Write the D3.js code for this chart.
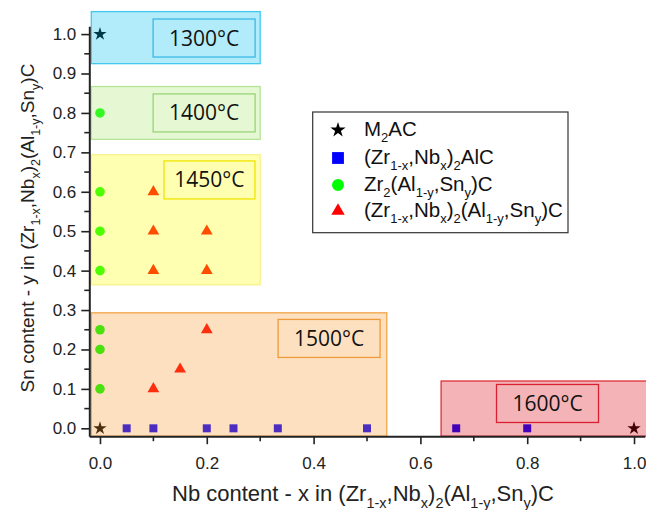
<!DOCTYPE html>
<html>
<head>
<meta charset="utf-8">
<script src="https://cdn.jsdelivr.net/npm/d3@7"></script>
<style>
  body { margin: 0; background: #fff; }
  text { font-family: "Liberation Sans", Arial, sans-serif; }
</style>
</head>
<body>
<div id="chart"></div>
<script>
// series (x = Nb content, y = Sn content)
var m2acX = [0, 0, 1.0];
var m2acY = [1.0, 0, 0];
var nbAlcX = [0.05, 0.1, 0.2, 0.25, 0.333, 0.5, 0.667, 0.8];
var nbAlcY = [0, 0, 0, 0, 0, 0, 0, 0];
var zrSnX = [0, 0, 0, 0, 0, 0, 0];
var zrSnY = [0.1, 0.2, 0.25, 0.4, 0.5, 0.6, 0.8];
var quatX = [0.1, 0.15, 0.2, 0.1, 0.2, 0.1, 0.2, 0.1];
var quatY = [0.1, 0.15, 0.25, 0.4, 0.4, 0.5, 0.5, 0.6];

// temperature regions (composition ranges)
var regionNames = ["1300°C", "1400°C", "1450°C", "1500°C", "1600°C"];
var regionX0 = [-0.02, -0.02, -0.02, -0.02, 0.635];
var regionX1 = [0.30, 0.30, 0.30, 0.537, 1.04];
var regionY0 = [0.925, 0.733, 0.364, -0.02, -0.02];
var regionY1 = [1.057, 0.867, 0.694, 0.293, 0.12];
var regionLabelX = [0.195, 0.195, 0.205, 0.429, 0.838];
var regionLabelY = [0.99, 0.80, 0.63, 0.228, 0.063];

var xTicks = [0, 0.2, 0.4, 0.6, 0.8, 1.0];
var yTicks = [0, 0.1, 0.2, 0.3, 0.4, 0.5, 0.6, 0.7, 0.8, 0.9, 1.0];

var legendNames = ["M_{2}AC", "(Zr_{1-x},Nb_{x})_{2}AlC", "Zr_{2}(Al_{1-y},Sn_{y})C", "(Zr_{1-x},Nb_{x})_{2}(Al_{1-y},Sn_{y})C"];

var W = 646, H = 510;
var svg = d3.select("#chart").append("svg")
    .attr("width", W)
    .attr("height", H);

var x = d3.scaleLinear().domain([-0.02, 1.02]).range([89.3, 644.7]);
var y = d3.scaleLinear().domain([-0.02, 1.02]).range([436.2, 26.2]);

var regionFill = ["#00bff0", "#ace86c", "#ffff00", "#f8982d", "#da0512"];
var regionStroke = ["#45c8f0", "#b5e498", "#f8f28a", "#f2a548", "#e0303c"];
var labelStroke = ["#3cb8e4", "#98d478", "#f0e400", "#ee9a3a", "#d82030"];
var labelW = [102, 102, 91, 102, 102];

// sub-script text helper
function richText(sel, str, size, subSize) {
  var parts = str.split(/(_\{[^}]*\})/);
  var down = false;
  parts.forEach(function(p) {
    if (!p) return;
    if (p.indexOf("_{") == 0) {
      sel.append("tspan").attr("font-size", subSize).attr("dy", down ? 0 : size * 0.3).text(p.slice(2, -1));
      down = true;
    } else {
      sel.append("tspan").attr("font-size", size).attr("dy", down ? -size * 0.3 : 0).text(p);
      down = false;
    }
  });
}

// markers first, regions overlaid semi-transparently
var star = d3.symbol().type(d3.symbolStar);
var sq = d3.symbol().type(d3.symbolSquare);
var circ = d3.symbol().type(d3.symbolCircle);
var tri = d3.symbol().type(d3.symbolTriangle);

var markers = svg.append("g");
markers.selectAll(".sq").data(nbAlcX).enter().append("path")
  .attr("d", sq.size(64)())
  .attr("transform", function(d, i) { return "translate(" + x(d) + "," + y(nbAlcY[i]) + ")"; })
  .attr("fill", "#0000ff");
markers.selectAll(".ci").data(zrSnX).enter().append("path")
  .attr("d", circ.size(72)())
  .attr("transform", function(d, i) { return "translate(" + x(d) + "," + y(zrSnY[i]) + ")"; })
  .attr("fill", "#00ff00");
markers.selectAll(".tr").data(quatX).enter().append("path")
  .attr("d", tri.size(60)())
  .attr("transform", function(d, i) { return "translate(" + x(d) + "," + y(quatY[i]) + ")"; })
  .attr("fill", "#ff0000");
markers.selectAll(".st").data(m2acX).enter().append("path")
  .attr("d", star.size(55)())
  .attr("transform", function(d, i) { return "translate(" + x(d) + "," + y(m2acY[i]) + ")"; })
  .attr("fill", "#000000");

var regions = svg.append("g");
regionNames.forEach(function(name, i) {
  var x0 = x(regionX0[i]) + 2, x1 = x(regionX1[i]);
  var yt = y(regionY1[i]), yb = y(regionY0[i]);
  regions.append("rect")
    .attr("x", x0).attr("y", yt)
    .attr("width", x1 - x0).attr("height", yb - yt)
    .attr("fill", regionFill[i]).attr("fill-opacity", 0.3)
    .attr("stroke", regionStroke[i]).attr("stroke-width", 1.3);
  var cx = x(regionLabelX[i]), cy = y(regionLabelY[i]);
  regions.append("rect")
    .attr("x", cx - labelW[i] / 2).attr("y", cy - 19)
    .attr("width", labelW[i]).attr("height", 38)
    .attr("fill", "none")
    .attr("stroke", labelStroke[i]).attr("stroke-width", 1.3);
  regions.append("text")
    .attr("x", cx).attr("y", cy + 7.5)
    .attr("text-anchor", "middle")
    .style("font-family", "'Open Sans', 'Noto Sans', sans-serif")
    .attr("font-size", 21)
    .attr("fill", "#111")
    .text(name);
});

// axes
var xAxis = svg.append("g").attr("transform", "translate(0," + 436.2 + ")");
xAxis.call(d3.axisBottom(x).tickValues(xTicks).tickFormat(d3.format(".1f")).tickSize(8).tickSizeOuter(0).tickPadding(13));
xAxis.selectAll(".minor").data([0.1, 0.3, 0.5, 0.7, 0.9]).enter().append("line")
  .attr("x1", function(d) { return x(d); }).attr("x2", function(d) { return x(d); })
  .attr("y1", 0).attr("y2", 5);

var yAxis = svg.append("g").attr("transform", "translate(" + 89.3 + ",0)");
yAxis.call(d3.axisLeft(y).tickValues(yTicks).tickFormat(d3.format(".1f")).tickSize(8).tickSizeOuter(0).tickPadding(5));
yAxis.selectAll(".minor").data([0.05, 0.15, 0.25, 0.35, 0.45, 0.55, 0.65, 0.75, 0.85, 0.95]).enter().append("line")
  .attr("x1", 0).attr("x2", -5)
  .attr("y1", function(d) { return y(d); }).attr("y2", function(d) { return y(d); });

[xAxis, yAxis].forEach(function(a) {
  a.select(".domain").attr("stroke", "#222").attr("stroke-width", 2);
  a.selectAll("line").attr("stroke", "#222").attr("stroke-width", 1.6);
  a.selectAll("text").attr("font-size", 17).attr("fill", "#222")
    .style("font-family", "'Liberation Sans', Arial, sans-serif");
});

// axis titles
var xt = svg.append("text").attr("x", 363).attr("y", 501).attr("text-anchor", "middle").attr("fill", "#222");
richText(xt, "Nb content - x in (Zr_{1-x},Nb_{x})_{2}(Al_{1-y},Sn_{y})C", 22, 14.5);
var yt = svg.append("text").attr("transform", "translate(34,228) rotate(-90)").attr("text-anchor", "middle").attr("fill", "#222");
richText(yt, "Sn content - y in (Zr_{1-x},Nb_{x})_{2}(Al_{1-y},Sn_{y})C", 19, 12.5);

// legend
var lg = svg.append("g");
lg.append("rect").attr("x", 312.7).attr("y", 112).attr("width", 255.3).attr("height", 120.7)
  .attr("fill", "#fff").attr("stroke", "#333").attr("stroke-width", 1.2);
var legendSyms = [star.size(72)(), sq.size(140)(), circ.size(113)(), tri.size(78)()];
var legendCols = ["#000", "#0000ff", "#00ff00", "#ff0000"];
var legendRowY = [130, 158, 185, 211];
legendNames.forEach(function(n, i) {
  lg.append("path").attr("d", legendSyms[i])
    .attr("transform", "translate(338," + legendRowY[i] + ")")
    .attr("fill", legendCols[i]);
  var t = lg.append("text").attr("x", 364).attr("y", legendRowY[i] + 6).attr("fill", "#111");
  richText(t, n, 20.5, 13);
});
</script>
</body>
</html>
